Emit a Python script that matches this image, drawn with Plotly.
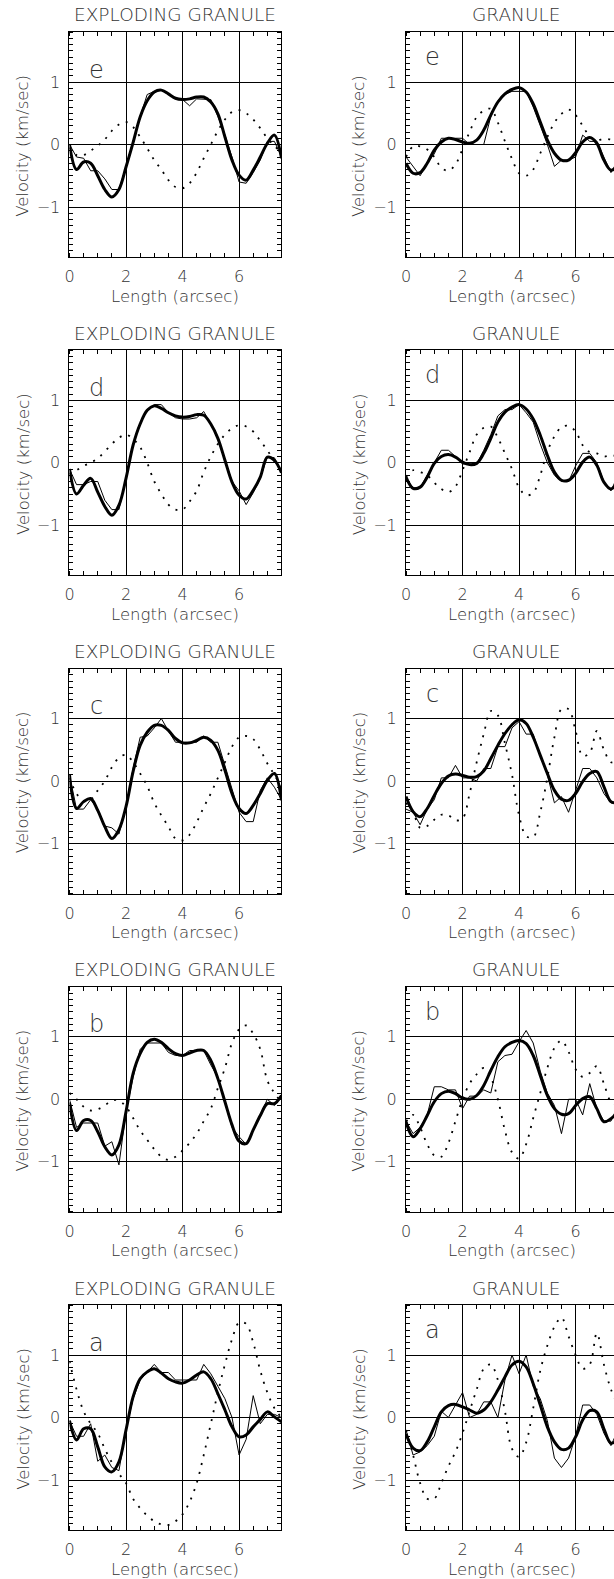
import plotly.graph_objects as go

W, H = 614, 1579

X = [0.0, 0.25, 0.5, 0.75, 1.0, 1.25, 1.5, 1.75, 2.0, 2.25, 2.5, 2.75, 3.0, 3.25, 3.5, 3.75,
     4.0, 4.25, 4.5, 4.75, 5.0, 5.25, 5.5, 5.75, 6.0, 6.25, 6.5, 6.75, 7.0, 7.25, 7.5]

ROW_LABELS = ['e', 'd', 'c', 'b', 'a']
COL_TITLES = ['EXPLODING GRANULE', 'GRANULE']
X_TICKS = [0, 2, 4, 6]
Y_TICKS = [-1, 0, 1]

# ---- EXPLODING GRANULE (left column) ----
eg_e_fit = [0.0, -0.40, -0.28, -0.30, -0.50, -0.72, -0.84, -0.72, -0.36, 0.03, 0.44, 0.70, 0.84, 0.87, 0.81, 0.74,
            0.72, 0.73, 0.76, 0.76, 0.68, 0.49, 0.12, -0.25, -0.49, -0.57, -0.41, -0.20, 0.02, 0.15, -0.22]
eg_e_thin = [0.0, -0.20, -0.22, -0.42, -0.42, -0.55, -0.72, -0.72, -0.35, 0.05, 0.45, 0.80, 0.85, 0.87, 0.80, 0.73,
             0.72, 0.62, 0.73, 0.73, 0.72, 0.45, 0.15, -0.20, -0.60, -0.62, -0.45, -0.25, 0.05, 0.05, -0.20]
eg_e_dot = [-0.05, -0.17, -0.17, -0.10, -0.02, 0.08, 0.22, 0.32, 0.36, 0.28, 0.12, -0.06, -0.25, -0.40, -0.57, -0.68,
            -0.70, -0.62, -0.45, -0.22, 0.0, 0.22, 0.40, 0.52, 0.55, 0.50, 0.40, 0.26, 0.10, -0.02, -0.14]

eg_d_fit = [-0.10, -0.50, -0.36, -0.25, -0.47, -0.70, -0.84, -0.68, -0.25, 0.28, 0.62, 0.84, 0.91, 0.87, 0.80, 0.75,
            0.73, 0.74, 0.77, 0.76, 0.62, 0.39, 0.04, -0.31, -0.52, -0.58, -0.44, -0.23, 0.09, 0.04, -0.16]
eg_d_thin = [-0.10, -0.35, -0.35, -0.30, -0.30, -0.60, -0.75, -0.75, -0.25, 0.30, 0.62, 0.85, 0.93, 0.93, 0.80, 0.72,
             0.70, 0.70, 0.72, 0.82, 0.62, 0.40, 0.05, -0.30, -0.45, -0.67, -0.48, -0.25, 0.10, 0.08, -0.15]
eg_d_dot = [-0.18, -0.12, -0.05, 0.0, 0.07, 0.18, 0.30, 0.40, 0.45, 0.38, 0.25, 0.0, -0.30, -0.50, -0.67, -0.75,
            -0.75, -0.62, -0.45, -0.15, 0.10, 0.30, 0.45, 0.55, 0.60, 0.58, 0.50, 0.35, 0.20, 0.02, -0.12]

eg_c_fit = [0.10, -0.44, -0.33, -0.28, -0.47, -0.73, -0.92, -0.78, -0.41, 0.15, 0.57, 0.78, 0.89, 0.89, 0.81, 0.68,
            0.61, 0.61, 0.65, 0.70, 0.65, 0.49, 0.17, -0.20, -0.44, -0.52, -0.39, -0.20, 0.01, 0.12, -0.31]
eg_c_thin = [0.10, -0.45, -0.45, -0.30, -0.45, -0.72, -0.75, -0.85, -0.42, 0.20, 0.70, 0.72, 0.85, 1.00, 0.80, 0.62,
             0.62, 0.62, 0.62, 0.72, 0.62, 0.62, 0.25, -0.15, -0.50, -0.65, -0.65, -0.15, 0.05, -0.10, -0.30]
eg_c_dot = [0.05, -0.20, -0.32, -0.30, -0.15, 0.0, 0.22, 0.37, 0.42, 0.30, 0.12, -0.08, -0.35, -0.55, -0.73, -0.92,
            -0.95, -0.86, -0.66, -0.42, -0.20, 0.05, 0.30, 0.55, 0.70, 0.72, 0.67, 0.50, 0.28, 0.10, -0.10]

eg_b_fit = [-0.05, -0.50, -0.34, -0.34, -0.52, -0.76, -0.89, -0.73, -0.20, 0.41, 0.73, 0.91, 0.96, 0.91, 0.81, 0.73,
            0.70, 0.74, 0.78, 0.78, 0.62, 0.33, -0.04, -0.41, -0.67, -0.71, -0.49, -0.26, -0.07, -0.07, 0.06]
eg_b_thin = [0.0, -0.45, -0.38, -0.38, -0.38, -0.75, -0.68, -1.05, -0.20, 0.35, 0.80, 0.90, 0.90, 0.90, 0.75, 0.70,
             0.70, 0.78, 0.78, 0.78, 0.55, 0.35, -0.05, -0.45, -0.60, -0.72, -0.50, -0.25, 0.0, -0.10, 0.05]
eg_b_dot = [0.10, 0.0, -0.12, -0.18, -0.16, -0.10, -0.02, -0.02, -0.12, -0.30, -0.50, -0.65, -0.80, -0.92, -0.97, -0.92,
            -0.82, -0.70, -0.55, -0.35, -0.15, 0.18, 0.50, 0.90, 1.12, 1.18, 1.05, 0.80, 0.30, 0.10, -0.05]

eg_a_fit = [-0.05, -0.36, -0.18, -0.18, -0.47, -0.79, -0.87, -0.71, -0.20, 0.33, 0.62, 0.73, 0.78, 0.71, 0.62, 0.57,
            0.55, 0.60, 0.68, 0.73, 0.62, 0.38, 0.12, -0.15, -0.31, -0.28, -0.15, -0.03, 0.09, 0.01, -0.07]
eg_a_thin = [-0.05, -0.30, -0.30, -0.10, -0.70, -0.60, -0.80, -0.85, -0.20, 0.30, 0.60, 0.72, 0.85, 0.72, 0.72, 0.60,
             0.60, 0.60, 0.60, 0.85, 0.70, 0.50, 0.30, 0.0, -0.60, -0.35, 0.35, -0.10, 0.05, 0.05, 0.0]
eg_a_dot = [0.90, 0.45, 0.10, -0.10, -0.25, -0.50, -0.72, -0.90, -1.05, -1.30, -1.45, -1.57, -1.66, -1.71, -1.72, -1.66,
            -1.55, -1.35, -1.05, -0.60, -0.10, 0.40, 0.85, 1.25, 1.52, 1.50, 1.20, 0.75, 0.40, 0.15, 0.0]

# ---- GRANULE (right column) ----
gr_e_fit = [-0.30, -0.46, -0.45, -0.30, -0.09, 0.04, 0.10, 0.08, 0.04, 0.02, 0.07, 0.23, 0.47, 0.68, 0.81, 0.88,
            0.91, 0.84, 0.65, 0.36, 0.07, -0.14, -0.25, -0.25, -0.13, 0.04, 0.11, 0.02, -0.25, -0.41, -0.35]
gr_e_thin = [-0.20, -0.35, -0.50, -0.30, -0.15, 0.10, 0.10, 0.10, 0.10, 0.0, 0.0, 0.0, 0.45, 0.70, 0.80, 0.85,
             0.85, 0.85, 0.60, 0.30, 0.0, -0.35, -0.25, -0.25, -0.20, 0.15, 0.05, 0.05, -0.20, -0.45, -0.25]
gr_e_dot = [-0.20, -0.03, -0.03, -0.08, -0.20, -0.37, -0.42, -0.32, -0.07, 0.20, 0.44, 0.54, 0.57, 0.35, 0.05, -0.23,
            -0.46, -0.50, -0.40, -0.14, 0.12, 0.35, 0.49, 0.56, 0.47, 0.30, 0.13, 0.07, 0.09, 0.08, 0.05]

gr_d_fit = [-0.23, -0.41, -0.39, -0.23, -0.01, 0.10, 0.13, 0.09, 0.01, -0.03, -0.01, 0.15, 0.39, 0.65, 0.81, 0.89,
            0.93, 0.86, 0.70, 0.44, 0.12, -0.15, -0.28, -0.28, -0.17, 0.01, 0.09, -0.04, -0.31, -0.42, -0.30]
gr_d_thin = [-0.25, -0.40, -0.40, -0.20, 0.0, 0.20, 0.20, 0.10, -0.02, -0.02, -0.02, 0.20, 0.45, 0.75, 0.85, 0.85,
             0.93, 0.80, 0.65, 0.30, 0.0, -0.20, -0.30, -0.30, -0.05, 0.15, 0.15, 0.0, -0.30, -0.45, -0.20]
gr_d_dot = [-0.23, -0.12, -0.15, -0.20, -0.32, -0.42, -0.47, -0.38, -0.12, 0.17, 0.45, 0.56, 0.58, 0.40, 0.15, -0.10,
            -0.40, -0.52, -0.48, -0.20, 0.18, 0.42, 0.57, 0.59, 0.50, 0.28, 0.17, 0.15, 0.10, 0.12, 0.10]

gr_c_fit = [-0.25, -0.49, -0.57, -0.44, -0.23, -0.04, 0.08, 0.11, 0.09, 0.06, 0.07, 0.16, 0.36, 0.57, 0.76, 0.90,
            0.98, 0.92, 0.70, 0.41, 0.12, -0.15, -0.29, -0.31, -0.20, -0.01, 0.12, 0.15, -0.09, -0.33, -0.35]
gr_c_thin = [-0.45, -0.50, -0.70, -0.45, -0.30, 0.05, 0.05, 0.25, 0.05, 0.05, 0.0, 0.20, 0.20, 0.55, 0.55, 0.85,
             0.95, 0.75, 0.75, 0.40, 0.10, -0.35, -0.25, -0.50, -0.15, 0.20, 0.20, 0.05, -0.20, -0.35, -0.35]
gr_c_dot = [-0.35, -0.50, -0.75, -0.72, -0.62, -0.54, -0.55, -0.63, -0.60, -0.20, 0.30, 0.75, 1.12, 1.05, 0.60, 0.10,
            -0.55, -0.88, -0.90, -0.50, 0.05, 0.70, 1.15, 1.15, 0.80, 0.40, 0.45, 0.80, 0.50, 0.30, 0.30]

gr_b_fit = [-0.36, -0.60, -0.47, -0.26, -0.04, 0.09, 0.13, 0.09, 0.02, 0.0, 0.06, 0.22, 0.46, 0.68, 0.84, 0.91,
            0.94, 0.89, 0.70, 0.38, 0.06, -0.15, -0.24, -0.23, -0.10, 0.01, 0.04, -0.15, -0.36, -0.31, -0.20]
gr_b_thin = [-0.35, -0.55, -0.45, -0.25, 0.20, 0.20, 0.15, 0.15, -0.15, 0.05, 0.05, 0.15, 0.10, 0.60, 0.70, 0.72,
             0.92, 1.10, 0.90, 0.45, 0.10, -0.10, -0.55, 0.0, 0.0, -0.25, 0.25, -0.15, -0.35, -0.35, -0.10]
gr_b_dot = [-0.36, -0.25, -0.45, -0.72, -0.90, -0.92, -0.70, -0.35, 0.0, 0.25, 0.40, 0.50, 0.35, 0.0, -0.50, -0.85,
            -0.95, -0.72, -0.30, 0.10, 0.50, 0.82, 0.94, 0.76, 0.48, 0.36, 0.42, 0.53, 0.25, -0.04, -0.10]

gr_a_fit = [-0.26, -0.49, -0.53, -0.39, -0.15, 0.09, 0.19, 0.21, 0.17, 0.12, 0.07, 0.12, 0.25, 0.44, 0.65, 0.84,
            0.90, 0.81, 0.54, 0.20, -0.15, -0.39, -0.51, -0.49, -0.31, -0.04, 0.11, 0.09, -0.18, -0.41, -0.35]
gr_a_thin = [-0.20, -0.60, -0.55, -0.45, -0.30, 0.10, 0.0, 0.20, 0.40, 0.0, 0.05, 0.25, 0.25, 0.0, 0.60, 1.0,
             0.70, 1.0, 0.50, 0.30, -0.05, -0.65, -0.80, -0.65, -0.30, 0.20, 0.20, 0.05, -0.25, -0.45, -0.20]
gr_a_dot = [-0.20, -0.60, -1.05, -1.30, -1.30, -1.05, -0.78, -0.55, -0.25, 0.10, 0.45, 0.78, 0.85, 0.60, 0.10, -0.50,
            -0.63, -0.40, 0.15, 0.75, 1.15, 1.45, 1.60, 1.30, 1.00, 0.78, 0.85, 1.35, 0.85, 0.45, 0.20]

PANELS = {
    ('e', 0): (eg_e_thin, eg_e_fit, eg_e_dot), ('e', 1): (gr_e_thin, gr_e_fit, gr_e_dot),
    ('d', 0): (eg_d_thin, eg_d_fit, eg_d_dot), ('d', 1): (gr_d_thin, gr_d_fit, gr_d_dot),
    ('c', 0): (eg_c_thin, eg_c_fit, eg_c_dot), ('c', 1): (gr_c_thin, gr_c_fit, gr_c_dot),
    ('b', 0): (eg_b_thin, eg_b_fit, eg_b_dot), ('b', 1): (gr_b_thin, gr_b_fit, gr_b_dot),
    ('a', 0): (eg_a_thin, eg_a_fit, eg_a_dot), ('a', 1): (gr_a_thin, gr_a_fit, gr_a_dot),
}

# ---- geometry (pixels) ----
FONT = 'DejaVu Sans'
TXT = '#333333'
WEIGHT = 200
COL_LEFT = [65.0, 404.3]
PX_PER_X = 28.5
PLOT_W = [213.7, W - 404.3]
ROW_TOP0, ROW_PITCH, PLOT_H = 32.0, 318.25, 225.0
YT_X = [18.0, 357.0]
LETTER_Y = [1.2, 1.4]


def px(xp):
    return xp / W


def py(yp):
    return 1 - yp / H


def fnt(size):
    return dict(family=FONT, size=size, color=TXT, weight=WEIGHT)


fig = go.Figure()
annotations = []
layout_axes = {}

for r, lab in enumerate(ROW_LABELS):
    top = ROW_TOP0 + r * ROW_PITCH
    for c in range(2):
        n = r * 2 + c + 1
        xs = 'x' if n == 1 else f'x{n}'
        ys = 'y' if n == 1 else f'y{n}'
        xk = 'xaxis' if n == 1 else f'xaxis{n}'
        yk = 'yaxis' if n == 1 else f'yaxis{n}'
        thin, fit, dot = PANELS[(lab, c)]
        xmax = PLOT_W[c] / PX_PER_X
        fig.add_trace(go.Scatter(x=X, y=dot, mode='lines', xaxis=xs, yaxis=ys,
                                 line=dict(color='black', width=1.8, dash='2px,7px', shape='spline'),
                                 showlegend=False, hoverinfo='skip'))
        fig.add_trace(go.Scatter(x=X, y=thin, mode='lines', xaxis=xs, yaxis=ys,
                                 line=dict(color='black', width=1),
                                 showlegend=False, hoverinfo='skip'))
        fig.add_trace(go.Scatter(x=X, y=fit, mode='lines', xaxis=xs, yaxis=ys,
                                 line=dict(color='black', width=3, shape='spline'),
                                 showlegend=False, hoverinfo='skip'))
        x0 = COL_LEFT[c]
        x1 = min(x0 + PLOT_W[c], W)
        layout_axes[xk] = dict(
            domain=[px(x0), px(x1)], range=[0, xmax], anchor=ys,
            tickmode='array', tickvals=X_TICKS, ticktext=[str(t) for t in X_TICKS],
            ticks='', showgrid=True, gridcolor='black', gridwidth=1, zeroline=False,
            showline=True, linecolor='black', linewidth=1, mirror='allticks',
            ticklabelstandoff=5,
            minor=dict(tickmode='linear', tick0=0, dtick=0.5, ticks='inside', ticklen=4,
                       tickcolor='black', tickwidth=1, showgrid=False),
            tickfont=fnt(16), fixedrange=True)
        layout_axes[yk] = dict(
            domain=[py(top + PLOT_H), py(top)], range=[-1.8, 1.8], anchor=xs,
            tickmode='array', tickvals=Y_TICKS, ticktext=['\u22121', '0', '1'],
            ticks='', showgrid=True, gridcolor='black', gridwidth=1, zeroline=False,
            showline=True, linecolor='black', linewidth=1,
            mirror='allticks' if c == 0 else False,
            ticklabelstandoff=5,
            minor=dict(tickmode='linear', tick0=0, dtick=0.1, ticks='inside', ticklen=4,
                       tickcolor='black', tickwidth=1, showgrid=False),
            tickfont=fnt(16), fixedrange=True)
        cx = x0 + 213.7 / 2 if c == 0 else 515.0
        annotations.append(dict(xref='paper', yref='paper', x=px(cx), y=py(top - 17),
                                text=COL_TITLES[c], showarrow=False, xanchor='center', yanchor='middle',
                                font=fnt(18.5)))
        annotations.append(dict(xref='paper', yref='paper', x=px(x0 + 213.7 / 2 if c == 0 else 511.0),
                                y=py(top + PLOT_H + 39),
                                text='Length (arcsec)', showarrow=False, xanchor='center', yanchor='middle',
                                font=fnt(16.5)))
        annotations.append(dict(xref='paper', yref='paper', x=px(YT_X[c]), y=py(top + 114),
                                text='Velocity (km/sec)', showarrow=False, textangle=-90,
                                xanchor='center', yanchor='middle',
                                font=fnt(16.5)))
        annotations.append(dict(xref=xs, yref=ys, x=0.95, y=LETTER_Y[c], text=lab, showarrow=False,
                                xanchor='center', yanchor='middle',
                                font=fnt(24)))

fig.update_layout(width=W, height=H, margin=dict(l=0, r=0, t=0, b=0),
                  paper_bgcolor='white', plot_bgcolor='white',
                  annotations=annotations, **layout_axes)

fig.write_html('out.html')
